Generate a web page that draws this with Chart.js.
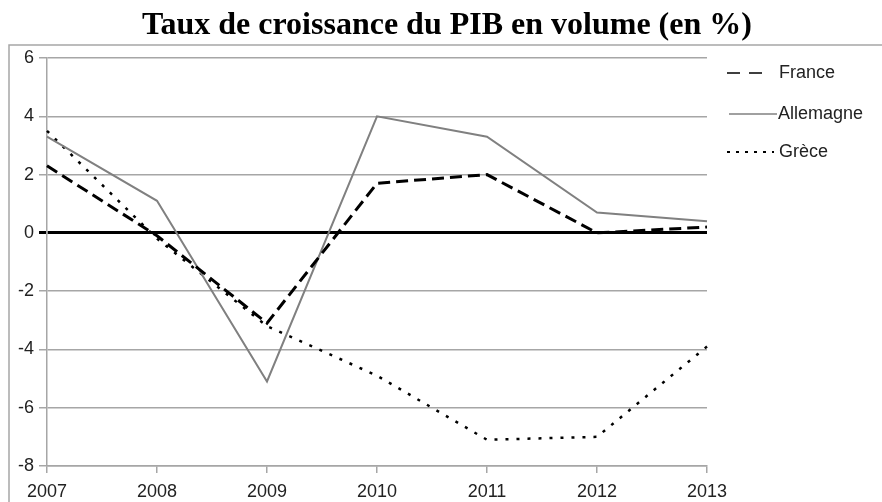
<!DOCTYPE html>
<html>
<head>
<meta charset="utf-8">
<script src="https://cdn.jsdelivr.net/npm/chart.js@4.4.0/dist/chart.umd.min.js"></script>
<style>
  html, body { margin: 0; padding: 0; background: #fff; }
  #wrap { width: 882px; height: 502px; }
</style>
</head>
<body>
<div id="wrap"><canvas id="pibChart" width="882" height="502"></canvas></div>
<script>
const years = ['2007', '2008', '2009', '2010', '2011', '2012', '2013'];
const france = [2.3, -0.1, -3.1, 1.7, 2.0, 0.0, 0.2];
const allemagne = [3.3, 1.1, -5.1, 4.0, 3.3, 0.7, 0.4];
const grece = [3.5, -0.2, -3.2, -4.9, -7.1, -7.0, -3.9];
const yTicks = [-8, -6, -4, -2, 0, 2, 4, 6];

const chartTitle = 'Taux de croissance du PIB en volume (en %)';
const gridGray = '#a6a6a6';
const labelFont = '"Liberation Sans", Arial, sans-serif';

// frame, title and legend are drawn by hand to sit like the original
const decorations = {
    id: 'decorations',
    beforeDraw(chart) {
        const ctx = chart.ctx;
        ctx.save();
        ctx.strokeStyle = '#a6a6a6';
        ctx.lineWidth = 1.5;
        ctx.strokeRect(9, 45, 900, 500);
        ctx.restore();
    },
    afterDraw(chart) {
        const ctx = chart.ctx;
        ctx.save();
        ctx.fillStyle = '#000';
        ctx.font = 'bold 32px "Liberation Serif", "Times New Roman", serif';
        ctx.textAlign = 'center';
        ctx.textBaseline = 'alphabetic';
        ctx.fillText(chartTitle, 447, 34);

        ctx.font = '18px ' + labelFont;
        ctx.textAlign = 'left';
        ctx.textBaseline = 'middle';
        ctx.fillStyle = '#222';

        // France
        ctx.strokeStyle = '#000';
        ctx.lineWidth = 1.5;
        ctx.setLineDash([13, 9]);
        ctx.beginPath(); ctx.moveTo(727, 73); ctx.lineTo(770, 73); ctx.stroke();
        ctx.fillText('France', 779, 73);

        // Allemagne
        ctx.strokeStyle = '#808080';
        ctx.setLineDash([]);
        ctx.beginPath(); ctx.moveTo(729, 114); ctx.lineTo(777, 114); ctx.stroke();
        ctx.fillText('Allemagne', 778, 114);

        // Grèce
        ctx.strokeStyle = '#000';
        ctx.lineWidth = 2;
        ctx.setLineDash([3, 6]);
        ctx.beginPath(); ctx.moveTo(727, 152); ctx.lineTo(774, 152); ctx.stroke();
        ctx.fillText('Grèce', 779, 152);
        ctx.restore();
    }
};

const ctx = document.getElementById('pibChart').getContext('2d');
new Chart(ctx, {
    type: 'line',
    data: {
        labels: years,
        datasets: [{
            label: 'France',
            data: france,
            borderColor: '#000',
            borderWidth: 3,
            borderDash: [12, 6],
            pointRadius: 0,
            tension: 0
        }, {
            label: 'Allemagne',
            data: allemagne,
            borderColor: '#808080',
            borderWidth: 2,
            pointRadius: 0,
            tension: 0
        }, {
            label: 'Grèce',
            data: grece,
            borderColor: '#000',
            borderWidth: 2.5,
            borderDash: [3, 8],
            pointRadius: 0,
            tension: 0
        }]
    },
    options: {
        responsive: false,
        animation: false,
        layout: { padding: { left: 0, right: 175, top: 58, bottom: 0 } },
        plugins: {
            legend: { display: false },
            title: { display: false },
            tooltip: { enabled: false }
        },
        scales: {
            x: {
                type: 'category',
                offset: false,
                afterFit: scale => { scale.height = 36; },
                grid: {
                    drawOnChartArea: false,
                    color: gridGray,
                    lineWidth: 1.5,
                    tickLength: 7
                },
                border: { color: gridGray, width: 1.5 },
                ticks: {
                    color: '#222',
                    padding: 8,
                    maxRotation: 0,
                    autoSkip: false,
                    font: { family: labelFont, size: 18 }
                }
            },
            y: {
                min: -8,
                max: 6,
                afterFit: scale => { scale.width = 47; },
                afterBuildTicks: scale => { scale.ticks = yTicks.map(v => ({ value: v })); },
                grid: {
                    color: c => (c.tick && c.tick.value === 0 ? '#000' : gridGray),
                    lineWidth: c => (c.tick && c.tick.value === 0 ? 3 : 1.5),
                    tickLength: 8
                },
                border: { color: gridGray, width: 1.5 },
                ticks: {
                    color: '#222',
                    padding: 5,
                    font: { family: labelFont, size: 18 }
                }
            }
        }
    },
    plugins: [decorations]
});
</script>
</body>
</html>
